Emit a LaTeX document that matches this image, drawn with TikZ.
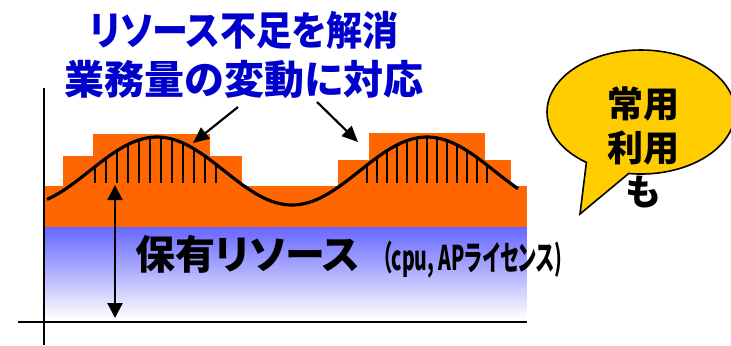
\documentclass[tikz,border=0pt]{standalone}
\usepackage{fontspec}
\usepackage{tikz}
\newfontfamily\jpfont{Noto Sans CJK JP}[RawFeature=+palt]
\definecolor{gorange}{HTML}{FF6600}
\definecolor{gyellow}{HTML}{FFCC00}
\definecolor{gtitle}{HTML}{0000CC}
\definecolor{gres}{HTML}{6666FF}
\usetikzlibrary{arrows.meta,shapes.callouts}

\begin{document}
\begin{tikzpicture}[x=0.5pt,y=-0.5pt]
    \tikzset{
      ax/.style={line width=0.8pt},
      hatch/.style={line width=0.7pt},
      arr/.style={line width=1.1pt,-{Triangle[width=7pt,length=8pt]}},
      ttl/.style={font=\jpfont\bfseries\fontsize{20pt}{24.5pt}\selectfont,
        text=gtitle, align=center},
      lbl/.style={font=\jpfont\bfseries\fontsize{20pt}{24pt}\selectfont, anchor=west},
      bub/.style={ellipse callout, fill=gyellow, draw, line width=0.8pt,
        minimum width=94pt, minimum height=62pt, callout pointer arc=28},
      bubtxt/.style={font=\jpfont\bfseries\fontsize{18pt}{22pt}\selectfont, align=center}}
    \useasboundingbox (0,0) rectangle (731,345);
    % held resources
    \foreach \i [evaluate=\i as \pct using {int(100-100*\i/46)}] in {0,...,46}
      \fill[gres!\pct!white] (45,{227+2*\i}) rectangle (527,{229.5+2*\i});
    % peak demand
    \fill[gorange] (45,186) rectangle (527,227);
    \fill[gorange] (63,156) rectangle (242,186);
    \fill[gorange] (93,134) rectangle (210,156);
    \fill[gorange] (338,160) rectangle (511,186);
    \fill[gorange] (369,133) rectangle (485,160);
    % load curve
    \draw[line width=1.6pt] plot[domain=47:518, samples=120] (\x,{171-34*cos((\x-157)*4/3)});
    \foreach \hx in {95,106,...,216}
      \draw[hatch] (\hx,183) -- (\hx,{171-34*cos((\hx-157)*4/3)});
    \foreach \hx in {367,377,...,490}
      \draw[hatch] (\hx,183) -- (\hx,{171-34*cos((\hx-157)*4/3)});
    % axes
    \draw[ax] (44,88) -- (44,345);
    \draw[ax] (18,322) -- (527,322);
    \coordinate (top) at (115,185);
    \coordinate (bot) at (115,318);
    \draw[arr, {Triangle[width=7.5pt,length=7.5pt]}-{Triangle[width=7.5pt,length=7.5pt]}] (top) -- (bot);
    \node[lbl] (held) at (128,257) {保有リソース\hspace{11pt}\raisebox{-0.5pt}{\scalebox{0.57}[1]{\fontsize{17pt}{19pt}\selectfont （cpu, APライセンス)}}};
    \node[ttl] (title) at (244,55) {\scalebox{0.9}[1]{リソース不足を解消}\\業務量の変動に対応};
    \coordinate (tl) at (238,107);
    \coordinate (pkl) at (193,143);
    \coordinate (tr) at (317,102);
    \coordinate (pkr) at (358,142);
    \draw[arr] (tl) -- (pkl);
    \draw[arr] (tr) -- (pkr);
    \coordinate (tip) at (580,214);
    \node[bub, callout absolute pointer={(tip)}] (bubble) at (641,112) {};
    \node[bubtxt] (note) at (643,147) {常用\\利用\\も};
\end{tikzpicture}
\end{document}
